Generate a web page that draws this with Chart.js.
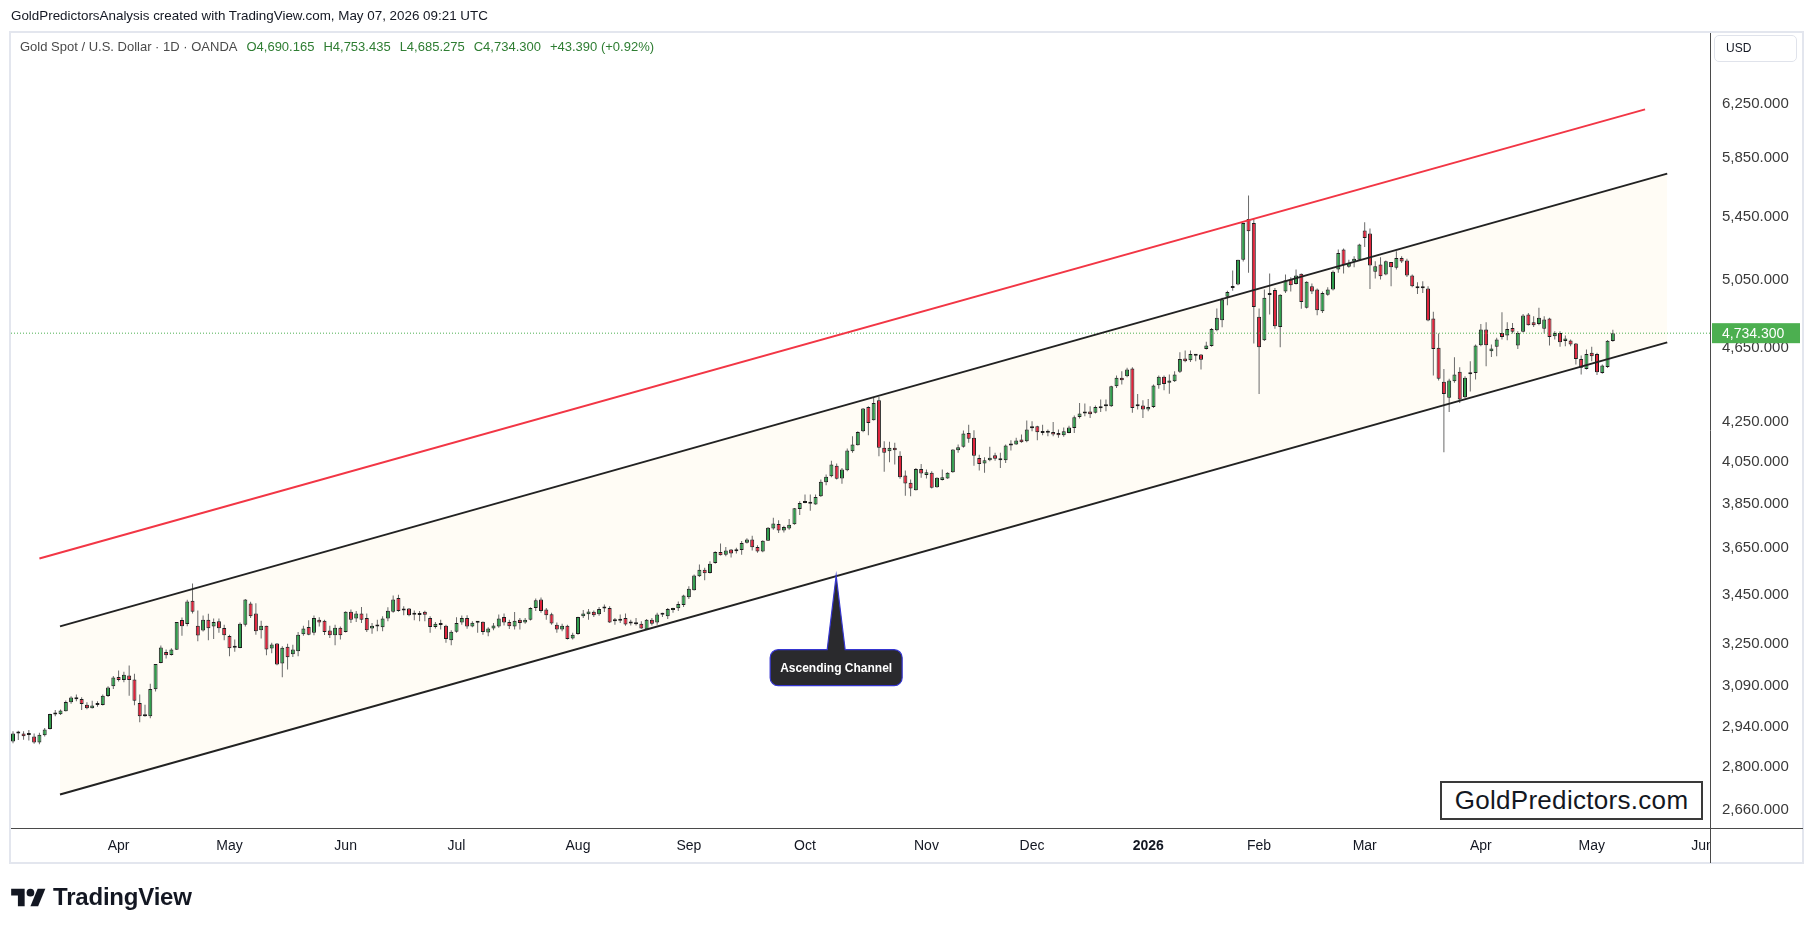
<!DOCTYPE html>
<html><head><meta charset="utf-8">
<script src="https://cdn.jsdelivr.net/npm/chart.js@4.4.1/dist/chart.umd.min.js"></script>
<style>
html,body{margin:0;padding:0;background:#fff;}
#wrap{position:relative;width:1814px;height:932px;overflow:hidden;background:#fff;}
canvas{position:absolute;left:0;top:0;}
.t{position:absolute;white-space:nowrap;font-family:"Liberation Sans",Arial,sans-serif;}
</style></head><body>
<div id="wrap">
<canvas id="c" width="1814" height="932"></canvas>
<div class="t" style="left:11px;top:8px;font-size:13.4px;color:#131722">GoldPredictorsAnalysis created with TradingView.com, May 07, 2026 09:21 UTC</div>
<div class="t" style="left:20px;top:39px;font-size:13px;color:#4a4a4a">Gold Spot / U.S. Dollar · 1D · OANDA<span style="color:#2e7d32;margin-left:9px">O4,690.165</span><span style="color:#2e7d32;margin-left:9px">H4,753.435</span><span style="color:#2e7d32;margin-left:9px">L4,685.275</span><span style="color:#2e7d32;margin-left:9px">C4,734.300</span><span style="color:#2e7d32;margin-left:9px">+43.390 (+0.92%)</span></div>
<div class="t" style="left:1714px;top:35px;width:83px;height:27px;border:1px solid #e0e3eb;border-radius:5px;box-sizing:border-box;font-size:12px;color:#131722;line-height:25px;padding-left:11px">USD</div>
<div class="t" style="left:1440px;top:781px;width:263px;height:39px;border:2px solid #3a3a3a;box-sizing:border-box;background:#fff;font-size:26px;color:#131722;text-align:center;line-height:35px;letter-spacing:0.3px">GoldPredictors.com</div>
<svg style="position:absolute;left:11px;top:885px" width="35" height="26" viewBox="0 0 36 27"><path d="M14 22H7V11H0V4h14v18z" fill="#131722"/><circle cx="20" cy="8" r="4" fill="#131722"/><path d="M28 22h-8l7.5-18h8L28 22z" fill="#131722"/></svg>
<div class="t" style="left:53px;top:883px;font-size:24px;font-weight:bold;color:#131722;letter-spacing:-0.2px">TradingView</div>
</div>
<script>
// ---- data ----
const START_DATE = '2025-03-04';
const AXIS_END_DATE = '2026-06-05';
const HOLIDAYS = ['2025-04-18','2025-12-25','2026-01-01','2026-04-03'];

const open = [
2888,2916,2916,2913,2906,2885,2910,2932,2985,2985,
2996,3029,3046,3041,3020,3007,3021,3019,3052,3088,
3123,3111,3128,3113,3026,2978,2978,3077,3176,3219,
3207,3227,3346,3330,3425,3323,3303,3347,3320,3341,
3313,3282,3235,3234,3327,3413,3372,3304,3323,3232,
3252,3174,3239,3210,3222,3289,3318,3294,3347,3343,
3303,3285,3314,3297,3379,3352,3372,3354,3311,3323,
3316,3352,3379,3436,3384,3393,3369,3368,3379,3354,
3318,3331,3323,3265,3298,3336,3354,3320,3337,3339,
3295,3311,3320,3358,3338,3320,3347,3336,3347,3395,
3430,3389,3369,3327,3307,3323,3272,3290,3361,3369,
3379,3369,3395,3395,3341,3343,3354,3334,3331,3331,
3307,3347,3336,3370,3361,3386,3394,3407,3439,3468,
3528,3556,3542,3585,3633,3621,3644,3636,3641,3674,
3688,3655,3635,3682,3737,3758,3729,3737,3757,3827,
3855,3860,3848,3886,3953,3982,4033,3971,4011,4104,
4134,4204,4330,4261,4365,4121,4104,4121,4082,3985,
3950,3915,4017,3987,3998,3929,3963,3971,4001,4109,
4126,4196,4171,4071,4043,4059,4084,4067,4059,4135,
4138,4163,4154,4220,4230,4196,4197,4201,4196,4184,
4196,4221,4277,4296,4306,4299,4334,4333,4334,4440,
4485,4494,4536,4337,4337,4316,4329,4445,4491,4458,
4467,4518,4591,4581,4617,4613,4645,4661,4751,4809,
4947,5008,5021,5175,5436,5410,4829,4694,4958,4988,
4770,4980,5052,5025,5087,4882,5011,4991,4862,4960,
4991,5113,5239,5130,5164,5175,5360,5341,5099,5144,
5083,5160,5124,5185,5169,5076,5011,5005,4997,4819,
4651,4464,4378,4467,4518,4381,4508,4512,4666,4755,
4632,4657,4736,4721,4764,4664,4742,4842,4797,4787,
4760,4819,4717,4736,4689,4693,4676,4589,4534,4623,
4617,4512,4545,4690.165];

const high = [
2924,2926,2924,2929,2916,2919,2936,2987,3000,3002,
3035,3051,3057,3047,3029,3034,3032,3057,3088,3126,
3147,3143,3166,3135,3057,3020,3097,3172,3244,3228,
3233,3338,3356,3429,3497,3384,3364,3371,3352,3352,
3327,3287,3268,3336,3432,3420,3414,3343,3323,3255,
3254,3241,3251,3247,3297,3323,3345,3364,3357,3347,
3323,3327,3320,3381,3389,3382,3399,3372,3334,3347,
3361,3398,3446,3450,3402,3395,3384,3382,3383,3361,
3338,3347,3327,3304,3357,3364,3365,3341,3339,3340,
3316,3334,3368,3372,3347,3378,3354,3354,3398,3434,
3438,3395,3375,3336,3331,3327,3294,3359,3386,3391,
3384,3399,3409,3402,3354,3368,3372,3347,3354,3341,
3350,3354,3375,3375,3395,3396,3421,3450,3485,3535,
3578,3564,3592,3636,3670,3655,3646,3651,3681,3694,
3705,3663,3685,3744,3786,3775,3750,3781,3831,3863,
3894,3894,3894,3966,3990,4057,4043,4022,4117,4179,
4204,4325,4334,4378,4383,4154,4151,4146,4104,4009,
3966,4022,4041,4014,4006,3977,4014,4001,4114,4138,
4208,4238,4209,4087,4074,4126,4096,4096,4138,4159,
4171,4188,4259,4256,4233,4238,4213,4252,4213,4224,
4233,4285,4351,4348,4334,4337,4369,4369,4443,4498,
4521,4540,4543,4398,4365,4372,4449,4498,4498,4503,
4521,4626,4636,4636,4617,4617,4686,4764,4878,4941,
4984,5107,5175,5410,5592,5443,4878,4991,5089,5001,
4962,5083,5066,5113,5089,5042,5027,4997,4980,5005,
5107,5239,5245,5175,5196,5275,5414,5373,5165,5190,
5170,5160,5228,5196,5181,5082,5036,5042,5011,4858,
4732,4534,4480,4598,4543,4494,4576,4670,4787,4797,
4670,4708,4856,4797,4793,4745,4846,4852,4833,4882,
4833,4823,4745,4745,4721,4698,4679,4608,4642,4657,
4623,4558,4695,4753.435];

const low = [
2882,2893,2894,2892,2880,2879,2906,2930,2978,2982,
2995,3023,3032,3000,3003,3006,3012,3017,3048,3078,
3106,3103,3053,3018,2956,2976,2971,3068,3175,3193,
3205,3226,3283,3321,3372,3261,3299,3265,3270,3294,
3265,3202,3220,3233,3320,3354,3287,3272,3206,3214,
3167,3122,3151,3199,3202,3283,3285,3285,3320,3286,
3274,3245,3268,3295,3334,3338,3334,3297,3291,3300,
3300,3341,3375,3379,3365,3361,3345,3341,3341,3294,
3311,3307,3255,3245,3294,3327,3310,3316,3294,3287,
3281,3304,3314,3324,3309,3307,3307,3331,3344,3382,
3375,3347,3327,3294,3300,3268,3268,3287,3354,3347,
3358,3363,3378,3334,3327,3334,3323,3324,3324,3310,
3307,3324,3327,3358,3350,3375,3382,3399,3432,3467,
3524,3511,3539,3581,3617,3614,3609,3626,3621,3670,
3639,3629,3632,3681,3732,3717,3720,3732,3755,3799,
3853,3819,3847,3883,3939,3977,3966,3945,4006,4096,
4132,4199,4184,4259,4079,4003,4050,4038,3969,3889,
3886,3913,3974,3971,3923,3926,3961,3969,3999,4096,
4121,4146,4033,4009,3998,4054,4057,4022,4046,4107,
4136,4146,4149,4204,4159,4184,4179,4179,4171,4176,
4194,4196,4270,4282,4273,4296,4304,4308,4330,4431,
4449,4489,4299,4316,4273,4308,4325,4427,4418,4400,
4463,4512,4570,4572,4576,4530,4642,4657,4746,4768,
4897,4984,5017,5164,5093,4676,4398,4690,4842,4760,
4655,4970,4980,5021,4876,4878,4964,4838,4852,4954,
4986,5093,5089,5124,5128,5170,5254,4995,5058,5052,
5078,5011,5113,5154,5068,5005,4964,4970,4803,4498,
4471,4099,4303,4458,4351,4377,4412,4476,4660,4549,
4600,4604,4698,4694,4732,4645,4738,4778,4770,4780,
4732,4664,4698,4657,4660,4660,4558,4503,4531,4576,
4500,4507,4539,4685.275];

const close = [
2916,2918,2907,2911,2885,2912,2930,2986,2984,2999,
3030,3046,3040,3022,3007,3017,3019,3053,3083,3121,
3111,3131,3111,3034,2978,2982,3078,3172,3236,3206,
3228,3338,3321,3421,3379,3284,3347,3312,3338,3312,
3285,3233,3239,3331,3430,3361,3300,3323,3228,3248,
3170,3235,3198,3228,3287,3311,3287,3354,3336,3297,
3285,3314,3285,3379,3347,3372,3347,3304,3323,3320,
3352,3383,3430,3382,3385,3365,3367,3366,3367,3318,
3331,3326,3270,3298,3334,3354,3320,3335,3335,3297,
3311,3324,3352,3336,3321,3343,3334,3347,3395,3427,
3382,3365,3332,3307,3323,3270,3287,3358,3372,3380,
3365,3391,3393,3336,3347,3351,3328,3332,3329,3311,
3347,3331,3368,3367,3391,3395,3411,3446,3475,3531,
3556,3541,3581,3633,3618,3639,3626,3639,3673,3688,
3654,3635,3682,3741,3760,3729,3744,3755,3830,3855,
3860,3851,3883,3955,3979,4038,3969,4014,4107,4138,
4201,4322,4247,4351,4121,4096,4121,4109,3977,3947,
3923,4017,3995,4001,3926,3974,3977,3998,4112,4124,
4193,4166,4082,4041,4059,4072,4067,4059,4133,4132,
4158,4149,4213,4230,4199,4197,4200,4188,4184,4204,
4224,4276,4296,4299,4292,4330,4323,4335,4440,4485,
4472,4530,4325,4334,4316,4329,4444,4491,4452,4471,
4503,4589,4576,4617,4607,4585,4664,4758,4823,4931,
4976,5001,5175,5410,5356,4886,4655,4941,4962,4774,
4960,5048,5017,5076,4917,5038,4980,4868,4970,4991,
5099,5217,5140,5154,5181,5271,5313,5138,5134,5072,
5165,5128,5185,5164,5076,5011,4999,4999,4807,4645,
4480,4398,4471,4503,4369,4485,4505,4664,4755,4666,
4647,4698,4713,4758,4742,4736,4837,4780,4780,4823,
4813,4713,4736,4683,4704,4670,4589,4540,4617,4604,
4516,4552,4691,4734.3];

// price-scale tick labels
const priceTicks = [2660,2800,2940,3090,3250,3450,3650,3850,4050,4250,4650,5050,5450,5850,6250];
// drawings: [bar index, price]
const channelUpper = [[8.9, 3320], [313.3, 5743]];
const channelLower = [[8.9, 2709], [313.3, 4682]];
const redLine      = [[5.0, 3604], [309.1, 6207]];
const calloutAt    = [155.9, 3530];
const lastClose = 4734.3;

// ---- trading calendar ----
const MONTHS = ['Jan','Feb','Mar','Apr','May','Jun','Jul','Aug','Sep','Oct','Nov','Dec'];
const days = [];
for (let d = new Date(START_DATE + 'T00:00:00Z'); d <= new Date(AXIS_END_DATE + 'T00:00:00Z'); d.setUTCDate(d.getUTCDate() + 1)) {
  const wd = d.getUTCDay(); const s = d.toISOString().slice(0, 10);
  if (wd === 0 || wd === 6 || HOLIDAYS.includes(s)) continue;
  days.push(s);
}
const monthTicks = {};
for (let i = 1; i < days.length; i++) {
  if (days[i].slice(5, 7) !== days[i - 1].slice(5, 7)) {
    const m = +days[i].slice(5, 7) - 1;
    monthTicks[i] = m === 0 ? days[i].slice(0, 4) : MONTHS[m];
  }
}

const wickData = [], bodyData = [], bodyColors = [];
for (let i = 0; i < close.length; i++) {
  wickData.push({x: i, y: [low[i], high[i]]});
  bodyData.push({x: i, y: [open[i], close[i]]});
  bodyColors.push(close[i] >= open[i] ? '#2f9e4c' : '#e1223b');
}
const toXY = a => a.map(p => ({x: p[0], y: p[1]}));

const X_MIN = -0.38, X_MAX = 321.4;
const fmt = v => v.toLocaleString('en-US', {minimumFractionDigits: 3, maximumFractionDigits: 3});

const overlay = {
  id: 'overlay',
  afterDatasetsDraw(chart) {
    const {ctx, scales: {x, y}} = chart;
    const tx = x.getPixelForValue(calloutAt[0]), ty = y.getPixelForValue(calloutAt[1]);
    const bw = 132, bh = 36, gap = 74, r = 8, half = 9;
    const bx = tx - bw / 2, by = ty + gap;
    ctx.save();
    ctx.beginPath();
    ctx.moveTo(bx + r, by);
    ctx.lineTo(tx - half, by);
    ctx.lineTo(tx, ty);
    ctx.lineTo(tx + half, by);
    ctx.lineTo(bx + bw - r, by);
    ctx.arcTo(bx + bw, by, bx + bw, by + r, r);
    ctx.lineTo(bx + bw, by + bh - r);
    ctx.arcTo(bx + bw, by + bh, bx + bw - r, by + bh, r);
    ctx.lineTo(bx + r, by + bh);
    ctx.arcTo(bx, by + bh, bx, by + bh - r, r);
    ctx.lineTo(bx, by + r);
    ctx.arcTo(bx, by, bx + r, by, r);
    ctx.closePath();
    ctx.fillStyle = '#2a2a2d'; ctx.fill();
    ctx.strokeStyle = '#3535d0'; ctx.lineWidth = 1.2; ctx.stroke();
    ctx.fillStyle = '#ffffff';
    ctx.font = 'bold 12px "Liberation Sans", Arial, sans-serif';
    ctx.textAlign = 'center'; ctx.textBaseline = 'middle';
    ctx.fillText('Ascending Channel', tx, by + bh / 2 + 1);
    ctx.restore();
  },
  afterDraw(chart) {
    const {ctx, scales: {x, y}, chartArea: a} = chart;
    ctx.save();
    // clip time labels under the price-scale column
    ctx.fillStyle = '#ffffff';
    ctx.fillRect(a.right + 1, a.bottom + 1, 1803 - a.right - 1, 863 - a.bottom - 1);
    // frame
    ctx.strokeStyle = '#e3e6ee'; ctx.lineWidth = 2;
    ctx.strokeRect(10, 32, 1793, 831);
    // axis line extensions
    ctx.strokeStyle = '#4a4a4a'; ctx.lineWidth = 1;
    ctx.beginPath();
    ctx.moveTo(a.right, a.bottom + 0.5); ctx.lineTo(1803, a.bottom + 0.5);
    ctx.moveTo(a.right + 0.5, a.bottom); ctx.lineTo(a.right + 0.5, 863);
    ctx.stroke();
    // last price label
    const py = y.getPixelForValue(lastClose);
    ctx.fillStyle = '#4caf50';
    ctx.fillRect(a.right + 2, py - 10, 88, 20);
    ctx.fillStyle = '#ffffff';
    ctx.font = '14px "Liberation Sans", Arial, sans-serif';
    ctx.textAlign = 'left'; ctx.textBaseline = 'middle';
    ctx.fillText(fmt(lastClose), a.right + 12, py + 1);
    ctx.restore();
  }
};

new Chart(document.getElementById('c'), {
  type: 'bar',
  data: {
    datasets: [
      {type: 'line', label: 'upper', data: toXY(channelUpper), borderColor: '#222', borderWidth: 2,
       pointRadius: 0, fill: '+1', backgroundColor: 'rgba(255,240,200,0.18)', order: -2},
      {type: 'line', label: 'lower', data: toXY(channelLower), borderColor: '#222', borderWidth: 2,
       pointRadius: 0, fill: false, order: -2},
      {type: 'line', label: 'red', data: toXY(redLine), borderColor: '#f23645', borderWidth: 2,
       pointRadius: 0, fill: false, order: -2},
      {type: 'line', label: 'last', data: [{x: X_MIN, y: lastClose}, {x: X_MAX, y: lastClose}],
       borderColor: '#4caf50', borderWidth: 1, borderDash: [1, 2], pointRadius: 0, fill: false, order: -1},
      {label: 'wick', data: wickData, backgroundColor: '#6a6a6a', borderWidth: 0,
       barThickness: 1, grouped: false, order: 3, inflateAmount: 0},
      {label: 'body', data: bodyData, backgroundColor: bodyColors, borderColor: '#1d1d1d', borderWidth: 1,
       borderSkipped: false, barThickness: 4, grouped: false, minBarLength: 2, order: 2, inflateAmount: 0}
    ]
  },
  options: {
    responsive: false, animation: false, devicePixelRatio: 1,
    layout: {padding: {left: 11, top: 32, right: 12, bottom: 69}},
    plugins: {legend: {display: false}, tooltip: {enabled: false}, filler: {drawTime: 'beforeDatasetsDraw'}},
    scales: {
      x: {
        type: 'linear', min: X_MIN, max: X_MAX, offset: false,
        grid: {display: false, drawTicks: false},
        border: {display: true, color: '#4a4a4a', width: 1},
        afterBuildTicks: s => { s.ticks = Object.keys(monthTicks).map(k => ({value: +k})); },
        afterFit: s => { s.height = 35; },
        ticks: {
          autoSkip: false, maxRotation: 0, minRotation: 0, padding: 10, color: '#131722',
          font: c => ({family: '"Liberation Sans", Arial, sans-serif', size: 14,
                       weight: (c.tick && /^\d{4}$/.test(c.tick.label)) ? 'bold' : 'normal'}),
          callback: v => monthTicks[v] || ''
        }
      },
      y: {
        type: 'logarithmic', position: 'right', min: 2601.1, max: 6816.6,
        grid: {display: false, drawTicks: false},
        border: {display: true, color: '#4a4a4a', width: 1},
        afterBuildTicks: s => { s.ticks = priceTicks.map(v => ({value: v})); },
        afterFit: s => { s.width = 92; },
        ticks: {
          padding: 12, color: '#3a3a3a',
          font: {family: '"Liberation Sans", Arial, sans-serif', size: 15},
          callback: v => fmt(v)
        }
      }
    }
  },
  plugins: [overlay]
});
</script>
</body></html>
